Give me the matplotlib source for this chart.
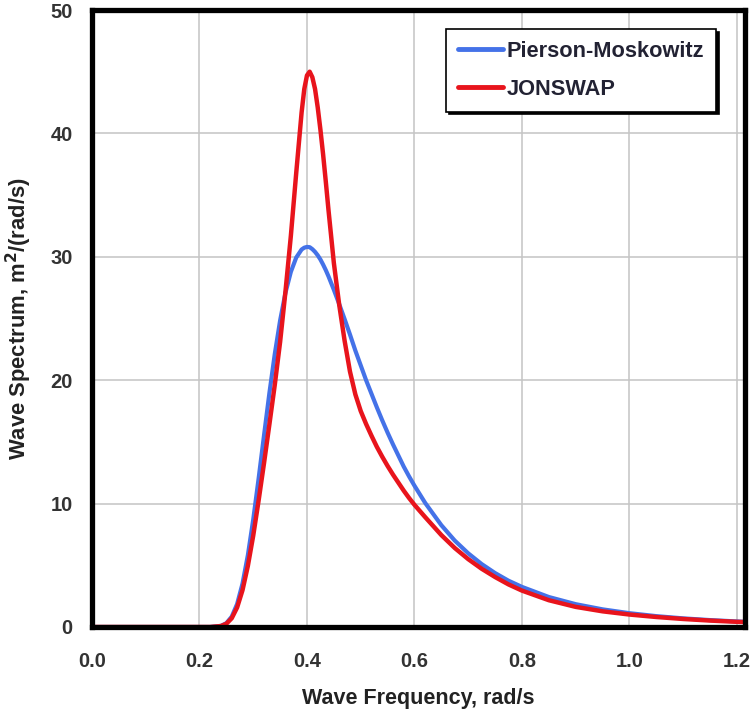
import matplotlib
matplotlib.use("Agg")
import matplotlib.pyplot as plt

plt.rcParams['font.family'] = ['Liberation Sans', 'DejaVu Sans']

# Wave frequency (rad/s) and spectral density values, m^2/(rad/s)
freq = [0.00, 0.10, 0.20, 0.22, 0.24, 0.25, 0.26, 0.27, 0.28, 0.29,
        0.30, 0.31, 0.32, 0.33, 0.34, 0.35, 0.36, 0.37, 0.38, 0.39,
        0.395, 0.40, 0.405, 0.41, 0.415, 0.42, 0.425, 0.43, 0.435, 0.44,
        0.45, 0.46, 0.47, 0.48, 0.49, 0.50, 0.51, 0.52, 0.53, 0.54,
        0.55, 0.56, 0.57, 0.58, 0.59, 0.60, 0.62, 0.65, 0.675, 0.70,
        0.725, 0.75, 0.775, 0.80, 0.85, 0.90, 0.95, 1.00, 1.05, 1.10,
        1.15, 1.20, 1.215]

pierson_moskowitz = [0.0, 0.0, 0.0, 0.0, 0.09, 0.31, 0.84, 1.86, 3.51, 5.82,
                     8.72, 12.03, 15.51, 18.94, 22.10, 24.84, 27.09, 28.78, 29.94, 30.59,
                     30.74, 30.80, 30.78, 30.62, 30.40, 30.12, 29.78, 29.37, 28.92, 28.42,
                     27.33, 26.16, 24.95, 23.70, 22.40, 21.20, 20.00, 18.90, 17.80, 16.75,
                     15.75, 14.80, 13.90, 13.00, 12.20, 11.45, 10.05, 8.25, 7.00, 5.97,
                     5.10, 4.37, 3.75, 3.25, 2.43, 1.85, 1.43, 1.12, 0.88, 0.70,
                     0.56, 0.45, 0.42]

jonswap = [0.0, 0.0, 0.0, 0.0, 0.08, 0.26, 0.71, 1.58, 2.98, 4.95,
           7.41, 10.25, 13.26, 16.40, 19.60, 23.10, 27.20, 31.70, 36.80, 41.70,
           43.60, 44.70, 45.00, 44.55, 43.60, 42.10, 40.30, 38.30, 36.10, 33.80,
           29.50, 26.10, 23.20, 20.70, 18.85, 17.50, 16.45, 15.50, 14.60, 13.80,
           13.05, 12.35, 11.70, 11.05, 10.45, 9.90, 8.90, 7.45, 6.40, 5.50,
           4.72, 4.05, 3.45, 2.95, 2.17, 1.63, 1.27, 1.01, 0.81, 0.65,
           0.52, 0.42, 0.40]

series_names = ['Pierson-Moskowitz', 'JONSWAP']
x_ticks = [0.0, 0.2, 0.4, 0.6, 0.8, 1.0, 1.2]
x_tick_labels = ['0.0', '0.2', '0.4', '0.6', '0.8', '1.0', '1.2']
y_ticks = [0, 10, 20, 30, 40, 50]

fig = plt.figure(figsize=(7.51, 7.15), dpi=100)
ax = fig.add_axes([92 / 751, 1 - 627 / 715, (745 - 92) / 751, (627 - 10) / 715])

ax.plot(freq, pierson_moskowitz, color='#4472e8', lw=3.0, label=series_names[0],
        solid_capstyle='round', solid_joinstyle='round', zorder=3)
ax.plot(freq, jonswap, color='#e8141c', lw=3.2, label=series_names[1],
        solid_capstyle='round', solid_joinstyle='round', zorder=4)

ax.set_xlim(0, 1.215)
ax.set_ylim(0, 50)
ax.set_xticks(x_ticks)
ax.set_xticklabels(x_tick_labels)
ax.set_yticks(y_ticks)

ax.grid(True, color='#c4c4c4', lw=1.1)
ax.set_axisbelow(True)
for sp in ax.spines.values():
    sp.set_linewidth(3.8)
    sp.set_color('black')
    sp.set_zorder(5)

ax.tick_params(length=0, labelsize=14.5, colors='#333333')
ax.tick_params(axis='x', pad=18)
ax.tick_params(axis='y', pad=14)
for lbl in ax.get_xticklabels() + ax.get_yticklabels():
    lbl.set_fontweight('bold')

ax.set_xlabel('Wave Frequency, rad/s', fontsize=15.5, fontweight='bold',
              color='#222222', labelpad=12)
ax.set_ylabel('Wave Spectrum, m$\\mathbf{^2}$/(rad/s)', fontsize=15.8, fontweight='bold',
              color='#222222', labelpad=12)

leg = ax.legend(loc='upper left', bbox_to_anchor=((446 - 92) / 653, (627 - 29) / 617),
                frameon=True, fancybox=False, shadow={'color': 'black', 'alpha': 1.0},
                prop={'weight': 'bold', 'size': 15.7}, handlelength=2.06,
                handletextpad=0.18, labelspacing=0.76, borderpad=0.55,
                borderaxespad=0)
leg.get_frame().set_edgecolor('black')
leg.get_frame().set_linewidth(1.2)
for t in leg.get_texts():
    t.set_color('#222233')
for h in leg.get_lines():
    h.set_linewidth(3.5)

fig.savefig('out.png', dpi=100)
